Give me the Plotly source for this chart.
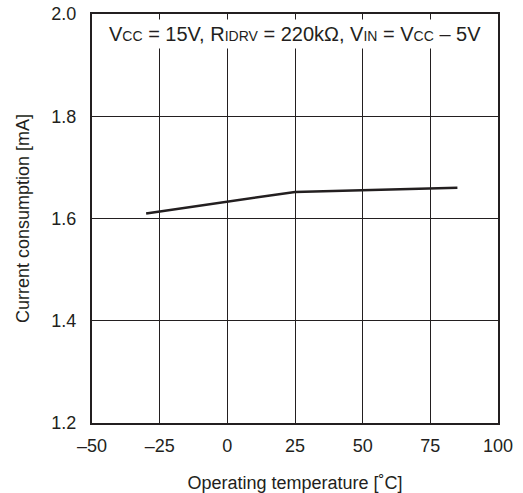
import plotly.graph_objects as go

# Current consumption vs. operating temperature
temperature_c = [-30, 25, 85]
current_ma = [1.610, 1.652, 1.660]

x_ticks = [-50, -25, 0, 25, 50, 75, 100]
x_tick_labels = ["\u201350", "\u201325", "0", "25", "50", "75", "100"]
y_ticks = [1.2, 1.4, 1.6, 1.8, 2.0]
y_tick_labels = ["1.2", "1.4", "1.6", "1.8", "2.0"]

FONT = "Liberation Sans, Arial, Helvetica, sans-serif"
INK = "#231f20"
SIZE = 18

fig = go.Figure()
fig.add_trace(go.Scatter(
    x=temperature_c, y=current_ma, mode="lines",
    line=dict(color=INK, width=2.5), showlegend=False, hoverinfo="skip",
))


def sc(s):
    return f"<span style='font-size:14px'>{s}</span>"


cond = (f"V{sc('CC')} = 15V, R{sc('IDRV')} = 220k\u03a9, "
        f"V{sc('IN')} = V{sc('CC')} \u2013 5V")

fig.add_annotation(
    x=0.5, y=0.951, xref="paper", yref="paper", text=cond, showarrow=False,
    font=dict(family=FONT, size=20, color=INK), bgcolor="white", borderpad=3,
    xanchor="center", yanchor="middle",
)

fig.update_xaxes(
    range=[-50, 100], tickvals=x_ticks, ticktext=x_tick_labels,
    showgrid=True, gridcolor=INK, gridwidth=1, zeroline=False,
    showline=True, linecolor=INK, linewidth=2, mirror=True,
    ticks="", ticklabelstandoff=5, automargin=False,
    tickfont=dict(family=FONT, size=SIZE, color=INK),
    title=dict(text="Operating temperature [\u02daC]", standoff=22,
               font=dict(family=FONT, size=SIZE, color=INK)),
)
fig.update_yaxes(
    range=[1.2, 2.0], tickvals=y_ticks, ticktext=y_tick_labels,
    showgrid=True, gridcolor=INK, gridwidth=1, zeroline=False,
    showline=True, linecolor=INK, linewidth=2, mirror=True,
    ticks="", ticklabelstandoff=10, automargin=False,
    tickfont=dict(family=FONT, size=SIZE, color=INK),
    title=dict(text="Current consumption [mA]", standoff=17,
               font=dict(family=FONT, size=SIZE, color=INK)),
)

fig.update_layout(
    width=523, height=493,
    margin=dict(l=92, r=25, t=14, b=70, autoexpand=False),
    paper_bgcolor="white", plot_bgcolor="white",
)

fig.write_html("out.html")
